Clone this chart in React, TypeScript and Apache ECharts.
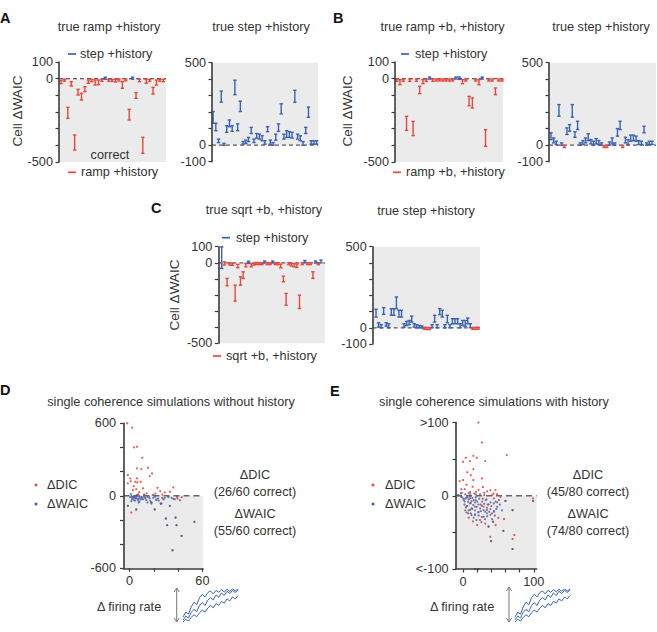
import React, { useEffect, useRef } from "react";
import * as echarts from "echarts";

const RED = "#e8473a";
const BLUE = "#3a62b4";
const INK = "#333333";
const AXIS_INK = "#3b3b3b";
const SHADE = "#ebebeb";
const FONT = '"Liberation Sans", Arial, Helvetica, sans-serif';
const FS = 12.7;

// ΔWAIC (step − ramp) per simulated cell, stored as [low, high] of the interval
const rampHistoryCells: number[][] = [
  [-30, -10], [-14, -4], [-238, -172], [-44, -18], [-428, -338], [-98, -64], [-128, -88], [-78, -48],
  [-28, -8], [-18, -4], [-38, -8], [-36, -8], [-16, -4], [0, 6], [-16, -4], [-16, -4],
  [-20, -4], [-12, -4], [-58, -18], [-12, -2], [-248, -184], [0, 6], [-118, -84], [-18, -4],
  [-448, -352], [-28, -4], [-16, -4], [-92, -52], [-38, -8], [-16, -4], [-18, -4],
];
const stepHistoryCellsA: number[][] = [
  [133, 204], [88, 133], [16, 37], [261, 328], [0, 10], [78, 118], [112, 153], [84, 118],
  [306, 394], [88, 129], [204, 267], [6, 22], [10, 31], [22, 47], [71, 108], [16, 37],
  [43, 71], [37, 67], [27, 57], [6, 27], [82, 112], [6, 31], [0, 16], [31, 67],
  [84, 129], [190, 251], [37, 67], [47, 88], [47, 82], [43, 78], [261, 333], [37, 67],
  [27, 57], [0, 22], [71, 108], [169, 231], [6, 27], [6, 27], [6, 27],
];
const rampBHistoryCells: number[][] = [
  [-16, -2], [-36, -6], [-16, -2], [-310, -226], [-16, -2], [-342, -256], [-16, -2], [-90, -46],
  [-30, -6], [-16, -2], [-2, 10], [-16, -2], [-14, -2], [-14, -2], [-14, -2], [-14, -2],
  [-14, -2], [-14, -2], [-2, 10], [-4, 10], [-30, -6], [-14, -2], [-162, -106], [-176, -116],
  [-14, -2], [-36, -6], [-2, 10], [-406, -306], [-14, -2], [-14, -2], [-96, -56], [-14, -2], [-14, -2],
];
const stepHistoryCellsB: number[][] = [
  [34, 75], [14, 44], [4, 24], [176, 246], [0, 14], [-12, -4], [65, 105], [85, 125],
  [170, 246], [48, 81], [95, 145], [0, 14], [4, 28], [14, 44], [28, 69], [8, 34],
  [0, 24], [8, 40], [4, 28], [0, 14], [-12, -4], [-12, -4], [0, 20], [8, 44],
  [0, 14], [55, 101], [95, 145], [-12, -4], [14, 48], [4, 34], [24, 61], [28, 61],
  [24, 55], [4, 28], [4, 24], [75, 115], [0, 14], [4, 24], [4, 24],
];
const sqrtBHistoryCells: number[][] = [
  [-35, 99], [-14, 6], [-143, -97], [-14, 0], [-14, -4], [-238, -139], [-31, -10], [-139, -87],
  [-97, -56], [-25, -4], [-4, 10], [-25, -4], [-14, -2], [-10, 2], [-10, 0], [-10, 0],
  [0, 10], [-10, 0], [-10, 0], [0, 10], [-10, 0], [-10, 0], [-31, -8], [-118, -83],
  [-263, -190], [-10, 0], [-20, -4], [-25, -4], [-29, -8], [-284, -201], [-10, 0], [2, 14],
  [-10, 0], [-10, 0], [-97, -56], [0, 10], [-10, 0], [0, 17],
];
const stepHistoryCellsC: number[][] = [
  [66, 114], [4, 31], [0, 19], [83, 124], [10, 31], [0, 25], [77, 118], [77, 118],
  [118, 190], [66, 108], [66, 108], [4, 25], [14, 39], [19, 45], [35, 72], [4, 25],
  [0, 19], [0, 14], [0, 10], [-6, 0], [-10, 0], [-10, 0], [0, 19], [35, 77],
  [0, 19], [81, 118], [66, 108], [0, 19], [31, 77], [0, 19], [25, 56], [25, 56],
  [25, 56], [0, 25], [14, 45], [10, 45], [25, 60], [0, 25], [-8, 0], [-8, 0], [-6, 0],
];

// single-coherence simulations: [Δ firing rate, Δ criterion]
const dicWithoutHistory: number[][] = [
  [-1.9, 600], [2.2, 564], [3.6, 401], [6.1, 406], [10.5, 315], [6.1, 227], [9.7, 221], [15.2, 232],
  [-1.4, 172], [0.6, 144], [6.1, 144], [18.5, 185], [16.6, 163], [4.7, 116], [6.4, 111], [9.1, 116],
  [2.8, 47], [5.5, 55], [23, 66], [21.3, 19], [25.2, 39], [29, 28], [33.2, 33], [36, 69],
  [6.9, 6], [1, 120], [8, 30], [12, 12], [3.5, 80], [14, 20], [19, 8], [27, 10], [7, 12], [11, 62],
  [1.4, -138], [31.8, -8], [37.3, -28], [39.6, -22], [-1.4, -83], [5.5, -113], [20.7, -113], [25.7, -64],
  [29.9, -188], [31, -243], [33.2, -83], [37.9, -180], [38.7, -243], [42.9, -332], [35.4, -451], [53.4, -216],
  [18, -55], [2, -10], [4, -20], [8, -5], [10, -25], [13, -15], [16, -8], [22, -30], [43, -12], [27, -18],
];
const waicWithoutHistory: number[][] = [
  [-1.4, 103], [1, 15], [6, 8], [12, 5], [20, 4],
  [-1.4, -83], [5.5, -113], [20.7, -113], [25.7, -64], [29.9, -188], [31, -243], [33.2, -83], [37.9, -180],
  [38.7, -243], [42.9, -332], [35.4, -451], [53.4, -216], [18, -55],
  [1.4, -3], [2.8, -17], [4.1, -8], [5.5, -22], [6.9, -36], [8.3, -17], [9.7, -8], [11, -28],
  [13.8, -36], [16.6, -22], [19.4, -17], [23.5, -22], [26.3, -64], [29, -17], [34.6, -17], [41.5, -36],
  [1.4, -44], [3.6, -36], [7.5, -55], [14.7, -55], [18, -64], [22.1, -36],
  [0.5, -12], [2, -28], [3, -5], [4.5, -40], [5, -14], [6, -3], [7, -25], [8, -48], [9, -30], [10.5, -15],
  [12, -6], [13, -22], [15, -10], [17, -42], [21, -8], [24, -40], [28, -30], [32, -10], [36, -25], [39, -8],
];
const dicWithHistory: number[][] = [
  [21.7, 100], [26.6, 72.7], [14.5, 54.5], [19.3, 51.8], [3.9, 51.8], [0, 46.4], [9.7, 47.3], [31.4, 47.3],
  [14.5, 36.4], [61.8, 55.5], [-4.8, 20], [0, 21.4], [14.5, 21.4], [26.6, 23.6], [-2.4, 9], [2.4, 9],
  [13.5, 12.3], [18.4, 5.5], [38.6, 7.7], [45.9, 7.7], [41, 0.9], [5, 15], [8, 4], [11, 28],
  [16, 3], [22, 8], [24, 2], [28, 12], [30, 4], [34, 6], [43, 3], [48, 2], [6, 32], [-3, 3], [10, 2],
  [99, -3.6], [58, -31.8], [38.6, -56], [70, -59], [72.5, -53.6], [57, -48], [36, -42], [70, -19.5],
  [70, -72.7], [39.6, -61.8], [60, -7], [99, -7], [42.5, -35.5], [53, -1.4], [7.2, -24], [12, -17],
  [16.9, -26], [21.7, -22], [26.6, -29], [29, -15], [33.8, -19.5], [38.6, -26], [43.5, -3.6], [48.3, -9],
  [9.7, -3.6], [2.4, -8], [-2.4, -1.4], [24, -33], [31.4, -38], [35, -12], [18, -6], [14, -35],
  [5, -14], [20, -40], [28, -4], [44, -22], [50, -30], [11, -10], [25, -12], [40, -14],
  [3, -20], [17, -15], [32, -6], [8, -30], [46, -40],
];
const waicWithHistory: number[][] = [
  [-7, 1], [-2, 4], [3, 2], [10, 5], [18, 2], [30, 1],
  [57, -48], [36, -42], [70, -19.5], [70, -72.7], [39.6, -61.8], [60, -7], [99, -7], [42.5, -35.5],
  [17, -100], [21.7, -100],
  [-2.4, -1.4], [0, -3.6], [4.8, -2.7], [7.2, -8.2], [9.7, -10.5], [12, -7.3], [14.5, -12.7], [16.9, -9.1],
  [19.3, -15], [21.7, -11.8], [24.2, -17.3], [26.6, -13.6], [29, -19.5], [31.4, -21.8], [33.8, -16.4], [36.2, -11.8],
  [38.6, -18.2], [41, -24], [43.5, -20.9], [45.9, -8.2], [48.3, -15], [4.8, -22.7], [9.7, -19.5], [12, -26.4],
  [16.9, -25.5], [21.7, -22.7], [29, -28.6], [33.8, -24], [43.5, -10.5], [50.7, -5.9],
  [1, -6], [2, -12], [3, -4], [4, -16], [6, -2], [6, -14], [8, -5], [8, -20], [10, -1], [11, -24],
  [13, -3], [13, -18], [15, -6], [15, -30], [17, -20], [18, -2], [19, -33], [20, -8], [22, -27], [23, -4],
  [25, -21], [26, -36], [27, -8], [30, -11], [31, -32], [33, -5], [34, -28], [37, -22], [39, -9], [41, -32],
  [45, -27], [47, -18], [52, -12], [55, -20],
];

// sketch of three noisy ramping firing-rate traces
const traceUpper = [1.5, 3, 2.4, 4.6, 6, 5.2, 7.4, 8.4, 7.6, 8.9, 9.4, 8.5, 9.6, 9, 9.8, 9.1, 9.9, 9.3, 10, 9.4, 10];
const traceMiddle = [0.6, 1.8, 1.2, 3, 3.8, 3.1, 5, 5.9, 5, 6.6, 7.4, 6.7, 8.2, 7.5, 8.8, 8, 9.3, 8.6, 9.6, 8.9, 9.8];
const traceLower = [0, 0.8, 0.3, 1.4, 2.2, 1.6, 2.8, 3.6, 3, 4.2, 5, 4.3, 5.6, 5, 6.3, 5.7, 7, 6.4, 7.6, 7, 8];

const rampTickLabels = [100, 0, -500];
const stepTickLabels = [500, 0, -100];
const noHistoryYLabels = [600, 0, -600];
const noHistoryXTicks = [0, 20, 40, 60];
const noHistoryXLabels = [0, 60];
const historyYTicks = [-100, -50, 0, 50, 100];
const historyYLabelValues = [100, 0, -100];
const historyYLabels: Record<string, string> = { "100": ">100", "0": "0", "-100": "<-100" };
const historyXTicks = [0, 20, 40, 60, 80, 100];
const historyXLabels = [0, 100];

type CellPanel = {
  cells: number[][];
  box: number[];
  y: number[];
  x: number[];
  labels: number[];
  shade: number[];
};

const cellPanels: CellPanel[] = [
  { cells: rampHistoryCells, box: [59, 62, 107, 100], y: [-500, 100], x: [-0.6, 30.8], labels: rampTickLabels, shade: [-500, 0] },
  { cells: stepHistoryCellsA, box: [212, 62.7, 106, 99], y: [-100, 500], x: [-0.4, 38.5], labels: stepTickLabels, shade: [0, 500] },
  { cells: rampBHistoryCells, box: [395, 62, 108, 100], y: [-500, 100], x: [-0.5, 32.3], labels: rampTickLabels, shade: [-500, 0] },
  { cells: stepHistoryCellsB, box: [549, 62.7, 107, 99], y: [-100, 500], x: [-0.75, 39.5], labels: stepTickLabels, shade: [0, 500] },
  { cells: sqrtBHistoryCells, box: [218.3, 246.7, 106.7, 96.6], y: [-500, 100], x: [-1.27, 38.5], labels: rampTickLabels, shade: [-500, 0] },
  { cells: stepHistoryCellsC, box: [372.7, 246.7, 107.3, 97.3], y: [-100, 500], x: [-1.3, 40.8], labels: stepTickLabels, shade: [0, 500] },
];

const LABEL_MARGIN = 6;

function hundreds(lo: number, hi: number) {
  const out: number[] = [];
  for (let v = lo; v <= hi; v += 100) out.push(v);
  return out;
}

function errorBar(_params: any, api: any) {
  const i = api.value(0);
  const lo = api.value(1);
  const hi = api.value(2);
  const top = api.coord([i, hi]);
  const bot = api.coord([i, lo]);
  const color = lo + hi >= 0 ? BLUE : RED;
  let y1 = top[1];
  let y2 = bot[1];
  if (y2 - y1 < 2) {
    const m = (y1 + y2) / 2;
    y1 = m - 1;
    y2 = m + 1;
  }
  const x = top[0];
  const cap = 1.7;
  const style = { stroke: color, lineWidth: 1.4, fill: "none" };
  return {
    type: "group",
    children: [
      { type: "line", shape: { x1: x, y1, x2: x, y2 }, style },
      { type: "line", shape: { x1: x - cap, y1, x2: x + cap, y2: y1 }, style },
      { type: "line", shape: { x1: x - cap, y1: y2, x2: x + cap, y2 }, style },
    ],
  };
}

const axisLineStyle = { show: true, onZero: false, lineStyle: { color: AXIS_INK, width: 1.6 } };
const tickStyle = { color: AXIS_INK, width: 1.2 };
const labelFont = { fontSize: FS, fontFamily: FONT, color: INK, lineHeight: 13 };

function txt(text: string, x: number, y: number, opts: any = {}) {
  return {
    type: "text",
    x,
    y,
    z: 100,
    rotation: opts.rotation || 0,
    silent: true,
    style: {
      text,
      fontSize: opts.size || FS,
      fontFamily: FONT,
      fontWeight: opts.bold ? "bold" : "normal",
      fill: opts.color || INK,
      align: opts.align || "center",
      verticalAlign: "middle",
    },
  };
}

function dash(x1: number, x2: number, y: number, color: string) {
  return { type: "line", z: 100, silent: true, shape: { x1, y1: y, x2, y2: y }, style: { stroke: color, lineWidth: 1.7 } };
}

function dot(cx: number, cy: number, color: string) {
  return { type: "circle", z: 100, silent: true, shape: { cx, cy, r: 1.5 }, style: { fill: color } };
}

function doubleArrow(x: number, y1: number, y2: number) {
  const s = { stroke: "#777777", lineWidth: 1, fill: "none" };
  return [
    { type: "line", z: 100, silent: true, shape: { x1: x, y1, x2: x, y2 }, style: s },
    { type: "polyline", z: 100, silent: true, shape: { points: [[x - 2.6, y1 + 4], [x, y1], [x + 2.6, y1 + 4]] }, style: s },
    { type: "polyline", z: 100, silent: true, shape: { points: [[x - 2.6, y2 - 4], [x, y2], [x + 2.6, y2 - 4]] }, style: s },
  ];
}

function buildOption() {
  const grid: any[] = [];
  const xAxis: any[] = [];
  const yAxis: any[] = [];
  const series: any[] = [];
  // top-of-axis tick labels are written next to the axis end
  const topLabels: any[] = [];

  cellPanels.forEach((p, k) => {
    grid.push({ left: p.box[0], top: p.box[1], width: p.box[2], height: p.box[3], containLabel: false, outerBoundsMode: "none" });
    // cells sit at positions 0..n-1
    xAxis.push({ gridIndex: k, type: "value", min: p.x[0], max: p.x[1], show: false, axisLine: { onZero: false } });
    yAxis.push({
      gridIndex: k,
      type: "value",
      min: p.y[0],
      max: p.y[1],
      z: 5,
      axisLine: axisLineStyle,
      axisTick: { show: true, length: 3.5, lineStyle: tickStyle, customValues: hundreds(p.y[0], p.y[1]) },
      splitLine: { show: false },
      axisLabel: {
        ...labelFont,
        margin: LABEL_MARGIN,
        hideOverlap: false,
        customValues: p.labels.filter((v) => v !== p.y[1]),
        formatter: (v: number) => String(Math.round(v)),
      },
    });
    p.labels
      .filter((v) => v === p.y[1])
      .forEach((v) => topLabels.push(txt(String(v), p.box[0] - LABEL_MARGIN, p.box[1], { align: "right" })));
    series.push({
      type: "line",
      xAxisIndex: k,
      yAxisIndex: k,
      data: [[p.x[0], 0], [p.x[1], 0]],
      symbol: "none",
      silent: true,
      z: 2,
      lineStyle: { color: "#5a5a5a", width: 1.2, type: [4, 3] },
      markArea: {
        silent: true,
        itemStyle: { color: SHADE },
        data: [[{ coord: [p.x[0], p.shade[0]] }, { coord: [p.x[1], p.shade[1]] }]],
      },
    });
    series.push({
      type: "custom",
      xAxisIndex: k,
      yAxisIndex: k,
      z: 3,
      clip: false,
      renderItem: errorBar,
      encode: { x: 0, y: [1, 2] },
      data: p.cells.map((c, i) => [i, c[0], c[1]]),
    });
  });

  const scatterPanels = [
    {
      box: [123.5, 423.3, 79.5, 145], x: [-5, 60.5], y: [-600, 600],
      xTicks: noHistoryXTicks, xLabels: noHistoryXLabels,
      yTicks: [-600, -400, -200, 0, 200, 400, 600], yLabels: noHistoryYLabels,
      yFmt: (v: number) => String(v),
      dic: dicWithoutHistory, waic: waicWithoutHistory,
    },
    {
      box: [456, 422.5, 80.6, 146.5], x: [-10, 104], y: [-100, 100],
      xTicks: historyXTicks, xLabels: historyXLabels,
      yTicks: historyYTicks, yLabels: historyYLabelValues,
      yFmt: (v: number) => historyYLabels[String(v)] || "",
      dic: dicWithHistory, waic: waicWithHistory,
    },
  ];

  scatterPanels.forEach((p) => {
    const k = grid.length;
    grid.push({ left: p.box[0], top: p.box[1], width: p.box[2], height: p.box[3], containLabel: false, outerBoundsMode: "none" });
    xAxis.push({
      gridIndex: k,
      type: "value",
      min: p.x[0],
      max: p.x[1],
      position: "bottom",
      z: 5,
      axisLine: axisLineStyle,
      axisTick: { show: true, length: 3.5, lineStyle: tickStyle, customValues: p.xTicks },
      axisLabel: { ...labelFont, margin: 6, customValues: p.xLabels },
      splitLine: { show: false },
    });
    yAxis.push({
      gridIndex: k,
      type: "value",
      min: p.y[0],
      max: p.y[1],
      z: 5,
      axisLine: axisLineStyle,
      axisTick: { show: true, length: 3.5, lineStyle: tickStyle, customValues: p.yTicks },
      splitLine: { show: false },
      axisLabel: { ...labelFont, margin: 7.5, hideOverlap: false, customValues: p.yLabels, formatter: p.yFmt },
    });
    series.push({
      type: "line",
      xAxisIndex: k,
      yAxisIndex: k,
      data: [[p.x[0], 0], [p.x[1], 0]],
      symbol: "none",
      silent: true,
      z: 2,
      lineStyle: { color: "#666666", width: 1.4, type: [6, 4] },
      markArea: {
        silent: true,
        itemStyle: { color: SHADE },
        data: [[{ coord: [p.x[0], p.y[0]] }, { coord: [p.x[1], 0] }]],
      },
    });
    series.push({
      type: "scatter",
      xAxisIndex: k,
      yAxisIndex: k,
      z: 3,
      symbolSize: 2.2,
      itemStyle: { color: RED, opacity: 0.9 },
      data: p.dic,
    });
    series.push({
      type: "scatter",
      xAxisIndex: k,
      yAxisIndex: k,
      z: 4,
      symbolSize: 2.2,
      itemStyle: { color: BLUE, opacity: 0.8 },
      data: p.waic,
    });
  });

  // small firing-rate sketches under the scatter panels
  [[183, 589], [515, 589]].forEach(([left, top]) => {
    const k = grid.length;
    grid.push({ left, top, width: 55, height: 33, containLabel: false, outerBoundsMode: "none" });
    xAxis.push({ gridIndex: k, type: "value", min: 0, max: 20, show: false });
    yAxis.push({ gridIndex: k, type: "value", min: 0, max: 10, show: false });
    [traceUpper, traceMiddle, traceLower].forEach((tr) => {
      series.push({
        type: "line",
        xAxisIndex: k,
        yAxisIndex: k,
        data: tr.map((v, i) => [i, v]),
        symbol: "none",
        silent: true,
        lineStyle: { color: BLUE, width: 1 },
      });
    });
  });

  const graphics: any[] = [
    ...topLabels,
    txt("A", 0, 18, { align: "left", bold: true, size: 14.5, color: "#111" }),
    txt("B", 333, 18, { align: "left", bold: true, size: 14.5, color: "#111" }),
    txt("C", 151, 208, { align: "left", bold: true, size: 14.5, color: "#111" }),
    txt("D", 0, 390, { align: "left", bold: true, size: 14.5, color: "#111" }),
    txt("E", 330, 391, { align: "left", bold: true, size: 14.5, color: "#111" }),

    txt("true ramp +history", 109, 27),
    txt("true step +history", 261, 27),
    txt("true ramp +b, +history", 442.5, 27),
    txt("true step +history", 601, 27),
    txt("true sqrt +b, +history", 264, 210),
    txt("true step +history", 426, 211),

    dash(68, 76, 54, BLUE), txt("step +history", 80, 54, { align: "left" }),
    dash(68, 76, 172.3, RED), txt("ramp +history", 81, 172.3, { align: "left" }),
    txt("correct", 110, 155),
    dash(401, 409, 54, BLUE), txt("step +history", 415, 54, { align: "left" }),
    dash(393, 401, 172.3, RED), txt("ramp +b, +history", 406, 172.3, { align: "left" }),
    dash(222, 230, 237.7, BLUE), txt("step +history", 236, 237.7, { align: "left" }),
    dash(213, 221, 356, RED), txt("sqrt +b, +history", 226, 356, { align: "left" }),

    txt("Cell ΔWAIC", 17, 111, { rotation: Math.PI / 2, size: 13.5 }),
    txt("Cell ΔWAIC", 347, 111, { rotation: Math.PI / 2, size: 13.5 }),
    txt("Cell ΔWAIC", 174, 295, { rotation: Math.PI / 2, size: 13.5 }),

    txt("single coherence simulations without history", 171, 401.7),
    txt("single coherence simulations with history", 494, 401.7),

    dot(36, 485, RED), txt("ΔDIC", 47, 485, { align: "left" }),
    dot(36, 504, BLUE), txt("ΔWAIC", 47, 504, { align: "left" }),
    dot(373, 485, RED), txt("ΔDIC", 385, 485, { align: "left" }),
    dot(373, 504, BLUE), txt("ΔWAIC", 385, 504, { align: "left" }),

    txt("ΔDIC", 255, 475), txt("(26/60 correct)", 255, 491.7),
    txt("ΔWAIC", 255, 514.3), txt("(55/60 correct)", 255, 530.7),
    txt("ΔDIC", 588, 475), txt("(45/80 correct)", 588, 491.7),
    txt("ΔWAIC", 588, 514.3), txt("(74/80 correct)", 588, 530.7),

    txt("Δ firing rate", 97, 606.7, { align: "left" }),
    txt("Δ firing rate", 430, 606.7, { align: "left" }),
    ...doubleArrow(176.7, 588, 622),
    ...doubleArrow(509, 587, 622),
  ];

  return {
    animation: false,
    backgroundColor: "#ffffff",
    grid,
    xAxis,
    yAxis,
    series,
    graphic: { elements: graphics },
  };
}

export default function App() {
  const ref = useRef<HTMLDivElement>(null);
  useEffect(() => {
    if (!ref.current) return;
    const chart = echarts.init(ref.current, undefined, { renderer: "svg" });
    chart.setOption(buildOption() as any);
    return () => chart.dispose();
  }, []);
  return (
    <div
      ref={ref}
      style={{ position: "absolute", left: 0, top: 0, width: 657, height: 632, background: "#fff" }}
    />
  );
}
